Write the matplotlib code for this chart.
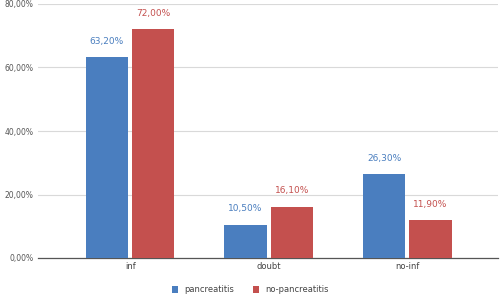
import matplotlib
matplotlib.use("Agg")
import matplotlib.pyplot as plt
import numpy as np

categories = ["inf", "doubt", "no-inf"]
pancreatitis = [63.20, 10.50, 26.30]
no_pancreatitis = [72.00, 16.10, 11.90]
series_names = ["pancreatitis", "no-pancreatitis"]
yticks = [0, 20, 40, 60, 80]

blue = "#4a7ebf"
red = "#c4504e"


def pct(v):
    return f"{v:.2f}%".replace(".", ",")


fig = plt.figure(figsize=(5.01, 2.97), dpi=100)
ax = fig.add_axes([38 / 501, 1 - 258 / 297, 460 / 501, 254 / 297])

x = np.arange(len(categories))
w = 0.305
gap = 0.015
b1 = ax.bar(x - w / 2 - gap, pancreatitis, w, color=blue, label=series_names[0], zorder=3)
b2 = ax.bar(x + w / 2 + gap, no_pancreatitis, w, color=red, label=series_names[1], zorder=3)

for bars, vals, c in [(b1, pancreatitis, blue), (b2, no_pancreatitis, red)]:
    for rect, v in zip(bars, vals):
        ax.text(rect.get_x() + rect.get_width() / 2, v + 3.6, pct(v),
                ha="center", va="bottom", fontsize=6.5, color=c)

ax.set_ylim(0, 80)
ax.set_xlim(-0.665, 2.655)
ax.set_yticks(yticks)
ax.set_yticklabels([pct(v) for v in yticks], fontsize=5.5, color="#555555")
ax.set_xticks(x)
ax.set_xticklabels(categories, fontsize=6, color="#444444")
ax.tick_params(length=0, pad=3)
ax.grid(axis="y", color="#d9d9d9", linewidth=0.8, zorder=0)
for s in ["top", "right", "left"]:
    ax.spines[s].set_visible(False)
ax.spines["bottom"].set_color("#555555")
ax.spines["bottom"].set_linewidth(0.9)

fig.legend(loc="lower center", bbox_to_anchor=(0.5, -0.015), ncol=2, frameon=False,
           fontsize=6, handlelength=0.7, handleheight=0.9, columnspacing=2.2,
           handletextpad=0.8, labelcolor="#444444")

fig.savefig("out.png", dpi=100)
